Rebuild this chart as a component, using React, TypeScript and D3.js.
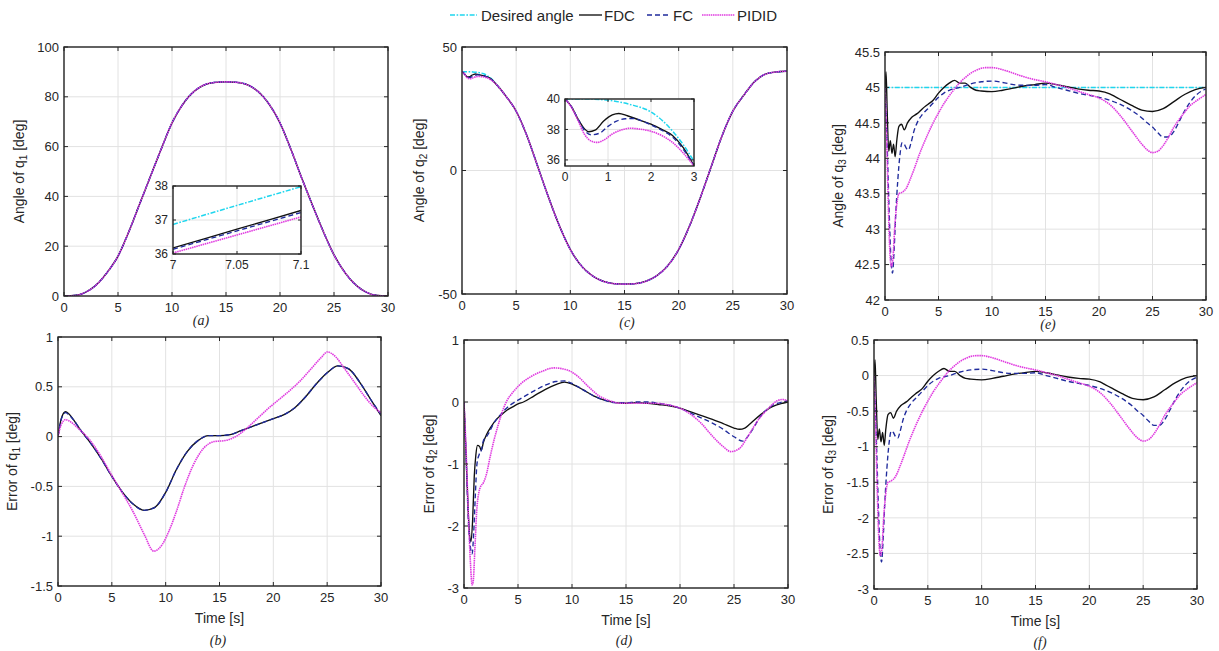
import React from 'react';
import * as d3 from 'd3';

// ---------------- DATA ----------------
const xTicksMain = [0, 5, 10, 15, 20, 25, 30];

// (a) Angle of q1
const q1Time = [0,1,2,3,4,5,6,7,8,9,10,11,12,13,14,15,16,17,18,19,20,21,22,23,24,25,26,27,28,29,30];
const q1Desired = [0,0.2,1.5,4.5,9.5,16,25.8,36.9,48,59,69.5,77,82,84.8,85.8,86,85.8,84.8,82,77,69.5,59,47.5,36.5,26,16.5,9.5,4.5,1.5,0.2,0];
const q1Ticks = [0, 20, 40, 60, 80, 100];
// zoom of (a)
const q1ZoomTime = [7, 7.05, 7.1];
const q1ZoomDesired = [36.87, 37.43, 37.98];
const q1ZoomFDC = [36.18, 36.73, 37.28];
const q1ZoomFC = [36.14, 36.68, 37.22];
const q1ZoomPIDID = [36.03, 36.56, 37.09];
const q1ZoomXTicks = [7, 7.05, 7.1];
const q1ZoomYTicks = [36, 37, 38];

// (c) Angle of q2
const q2DesiredTime = [0,0.5,1,1.5,2,2.5,2.75,3,3.5,4,5,6,7,8,9,10,11,12,13,14,15,16,17,18,19,20,21,22,23,24,25,26,27,28,29,30];
const q2Desired = [40,40,39.92,39.65,39.15,37.9,37.0,35.9,33.2,30.4,24,14,1.5,-11,-22.5,-32,-38.5,-42.5,-44.8,-45.8,-46,-45.8,-44.8,-42.5,-38.5,-32,-22.5,-11,1.5,14,24,30.4,35.9,39.0,39.9,40.2];
const q2FDCTime = [0,0.15,0.3,0.45,0.55,0.7,0.9,1.1,1.25,1.45,1.75,2,2.25,2.5,2.75,3];
const q2FDC = [40,39.5,38.7,38.05,37.85,37.95,38.55,38.95,39.05,38.9,38.6,38.35,38.0,37.6,36.8,35.6];
const q2FCTime = [0,0.15,0.3,0.45,0.6,0.8,1,1.2,1.4,1.6,1.8,2,2.25,2.5,2.75,3];
const q2FC = [40,39.5,38.7,37.95,37.65,37.75,38.2,38.55,38.7,38.72,38.55,38.3,37.95,37.5,36.7,35.65];
const q2PIDIDTime = [0,0.15,0.3,0.45,0.6,0.75,0.9,1.1,1.3,1.5,1.75,2,2.25,2.5,2.75,3];
const q2PIDID = [40,39.45,38.6,37.7,37.25,37.15,37.3,37.7,37.95,38.08,38.02,37.88,37.6,37.15,36.45,35.6];
const q2Ticks = [-50, 0, 50];
const q2ZoomXTicks = [0, 1, 2, 3];
const q2ZoomYTicks = [36, 38, 40];

// (e) Angle of q3
const q3DesiredTime = [0, 30];
const q3Desired = [45, 45];
const q3FDCTime = [0,0.1,0.2,0.35,0.5,0.65,0.8,0.95,1.1,1.3,1.55,1.8,2.1,2.5,3,3.5,4,4.5,5,5.5,6,6.5,7,7.5,8,8.5,9,10,11,12,13,14,15,16,17,18,19,20,21,21.5,22,23,24,25,26,27,28,29,30];
const q3AngleFDC = [45,45.22,44.7,44.1,44.25,44.07,44.2,44.02,44.25,44.45,44.48,44.4,44.5,44.58,44.63,44.7,44.76,44.82,44.92,45.0,45.06,45.1,45.06,45.06,45.0,44.96,44.95,44.94,44.96,44.99,45.02,45.04,45.06,45.04,45.01,44.98,44.96,44.95,44.91,44.87,44.83,44.75,44.68,44.66,44.7,44.8,44.9,44.97,45];
const q3FCTime = [0,0.2,0.4,0.55,0.7,0.85,1,1.2,1.4,1.6,1.8,2,2.2,2.4,2.7,3,3.5,4,4.5,5,5.5,6,7,8,9,10,11,12,13,14,15,16,17,18,19,20,21,22,23,24,24.5,25,25.5,26,26.5,27,27.5,28,29,30];
const q3AngleFC = [45,44.2,43.2,42.6,42.38,42.7,43.2,43.7,44.05,44.22,44.2,44.14,44.12,44.2,44.38,44.5,44.62,44.7,44.78,44.86,44.92,44.96,45.0,45.05,45.08,45.09,45.07,45.04,45.03,45.03,45.04,45.0,44.96,44.92,44.89,44.86,44.82,44.76,44.68,44.57,44.5,44.44,44.36,44.3,44.3,44.38,44.52,44.67,44.88,44.98];
const q3PIDIDTime = [0,0.15,0.3,0.45,0.6,0.75,0.9,1.1,1.3,1.6,2,2.4,2.8,3.2,3.6,4,4.5,5,5.5,6,6.5,7,7.5,8,8.5,9,9.5,10,11,12,13,14,15,16,17,18,19,20,21,22,23,24,24.5,25,25.5,26,26.5,27,27.5,28,28.5,29,30];
const q3AnglePIDID = [45,44.3,43.4,42.7,42.47,42.6,43.0,43.35,43.5,43.52,43.58,43.72,43.88,44.05,44.2,44.34,44.5,44.64,44.77,44.88,44.98,45.07,45.14,45.2,45.24,45.27,45.28,45.28,45.25,45.2,45.15,45.11,45.08,45.04,45.0,44.95,44.9,44.85,44.76,44.6,44.4,44.2,44.12,44.08,44.1,44.18,44.3,44.44,44.55,44.65,44.74,44.8,44.9];
const q3Ticks = [42, 42.5, 43, 43.5, 44, 44.5, 45, 45.5];

// (b) Error of q1
const e1FDCTime = [0,0.3,0.7,1,1.5,2,3,4,5,6,7,8,9,10,11,12,13,14,15,16,17,18,19,20,21,22,23,24,25,26,27,28,29,30];
const e1FDC = [0,0.18,0.25,0.23,0.16,0.08,-0.06,-0.22,-0.4,-0.56,-0.68,-0.74,-0.71,-0.56,-0.33,-0.15,-0.04,0.01,0.01,0.02,0.06,0.1,0.14,0.18,0.22,0.29,0.4,0.53,0.64,0.71,0.68,0.55,0.38,0.21];
const e1FC = [0,0.17,0.24,0.22,0.16,0.08,-0.06,-0.22,-0.4,-0.56,-0.68,-0.74,-0.71,-0.56,-0.33,-0.15,-0.04,0.01,0.01,0.02,0.06,0.1,0.14,0.18,0.22,0.29,0.4,0.53,0.64,0.71,0.68,0.55,0.38,0.22];
const e1PIDIDTime = [0,0.3,0.7,1,1.5,2,2.5,3,4,5,6,7,8,8.9,9.7,10.3,11,11.7,12.5,13.5,14.5,15.5,16.5,17.5,18.5,19.5,20.5,21.5,22.5,23.5,24.5,25,25.8,26.5,27.5,28.5,29.3,30];
const e1PIDID = [0,0.12,0.17,0.16,0.12,0.07,0.02,-0.04,-0.2,-0.39,-0.57,-0.76,-0.98,-1.15,-1.08,-0.95,-0.75,-0.52,-0.3,-0.12,-0.05,-0.04,0,0.08,0.18,0.28,0.37,0.46,0.56,0.68,0.8,0.85,0.8,0.7,0.55,0.4,0.3,0.24];
const e1Ticks = [-1.5, -1, -0.5, 0, 0.5, 1];

// (d) Error of q2
const e2FDCTime = [0,0.2,0.4,0.55,0.65,0.8,0.95,1.1,1.25,1.45,1.6,1.8,2.1,2.5,3,3.5,4,4.5,5,5.5,6.5,7.5,8.5,9.3,10,11,12,13,14,15,16,17,18,19,20,21,22,23,24,25,25.5,26,26.5,27.5,28.5,29.5,30];
const e2FDC = [0,-0.9,-1.8,-2.2,-2.25,-1.9,-1.2,-0.85,-0.7,-0.72,-0.78,-0.65,-0.52,-0.4,-0.28,-0.2,-0.13,-0.08,-0.03,0,0.1,0.2,0.28,0.32,0.29,0.2,0.1,0.03,-0.01,-0.02,-0.01,-0.02,-0.04,-0.06,-0.1,-0.16,-0.22,-0.28,-0.35,-0.42,-0.44,-0.42,-0.35,-0.2,-0.08,-0.02,0];
const e2FCTime = [0,0.2,0.4,0.6,0.75,0.9,1.05,1.2,1.4,1.6,1.8,2,2.3,2.7,3.2,3.7,4.2,5,5.5,6.5,7.5,8.5,9.3,10,11,12,13,14,15,16,17,18,19,20,21,22,23,24,25,25.8,26.3,26.8,27.5,28.5,29.5,30];
const e2FC = [0,-0.9,-1.9,-2.35,-2.45,-2.1,-1.5,-1.0,-0.85,-0.78,-0.62,-0.58,-0.5,-0.36,-0.24,-0.14,-0.06,0.03,0.08,0.18,0.27,0.33,0.34,0.3,0.2,0.1,0.03,-0.01,-0.01,0,0,-0.02,-0.05,-0.1,-0.18,-0.26,-0.34,-0.44,-0.56,-0.63,-0.55,-0.42,-0.22,-0.06,0,0.02];
const e2PIDIDTime = [0,0.2,0.4,0.6,0.75,0.85,1,1.2,1.5,1.8,2.1,2.4,2.8,3.2,3.6,4,4.5,5.3,6.3,7.3,8.3,9.5,10.5,11.5,12.5,13.5,14.5,16,17.5,19,20,21,22,23,24,24.7,25.5,26.3,27.2,28.2,29,29.5,30];
const e2PIDID = [0,-0.8,-1.8,-2.6,-2.95,-2.9,-2.4,-1.7,-1.38,-1.3,-1.15,-0.9,-0.6,-0.35,-0.13,0.03,0.15,0.3,0.42,0.5,0.55,0.52,0.42,0.25,0.1,0.02,-0.02,-0.02,-0.02,-0.05,-0.1,-0.2,-0.35,-0.55,-0.72,-0.8,-0.75,-0.55,-0.3,-0.1,0.02,0.04,0.02];
const e2Ticks = [-3, -2, -1, 0, 1];

// (f) Error of q3
const e3FDC = [0,0.22,-0.3,-0.9,-0.75,-0.93,-0.8,-0.98,-0.75,-0.55,-0.52,-0.6,-0.5,-0.42,-0.37,-0.3,-0.24,-0.18,-0.08,0,0.06,0.1,0.06,0.06,0,-0.04,-0.05,-0.06,-0.04,-0.01,0.02,0.04,0.06,0.04,0.01,-0.02,-0.04,-0.05,-0.09,-0.13,-0.17,-0.25,-0.32,-0.34,-0.3,-0.2,-0.1,-0.03,0];
const e3FC = [0,-0.8,-1.8,-2.4,-2.62,-2.3,-1.8,-1.3,-0.95,-0.78,-0.8,-0.86,-0.88,-0.8,-0.62,-0.5,-0.38,-0.3,-0.22,-0.14,-0.08,-0.04,0,0.05,0.08,0.09,0.07,0.04,0.03,0.03,0.04,0,-0.04,-0.08,-0.11,-0.14,-0.18,-0.24,-0.32,-0.43,-0.5,-0.56,-0.64,-0.7,-0.7,-0.62,-0.48,-0.33,-0.12,-0.02];
const e3PIDID = [0,-0.7,-1.6,-2.3,-2.53,-2.4,-2.0,-1.65,-1.5,-1.48,-1.42,-1.28,-1.12,-0.95,-0.8,-0.66,-0.5,-0.36,-0.23,-0.12,-0.02,0.07,0.14,0.2,0.24,0.27,0.28,0.28,0.25,0.2,0.15,0.11,0.08,0.04,0,-0.05,-0.1,-0.15,-0.24,-0.4,-0.6,-0.8,-0.88,-0.92,-0.9,-0.82,-0.7,-0.56,-0.45,-0.35,-0.26,-0.2,-0.1];
const e3Ticks = [-3, -2.5, -2, -1.5, -1, -0.5, 0, 0.5];

const legendNames = ['Desired angle', 'FDC', 'FC', 'PIDID'];

// ---------------- STYLE ----------------
const STYLES: Record<string, { stroke: string; dash?: string; width: number }> = {
  desired: { stroke: '#1fd6ee', dash: '5,1.6,1.6,1.6', width: 1.5 },
  fdc: { stroke: '#111111', width: 1.35 },
  fc: { stroke: '#1f2b9c', dash: '5,3', width: 1.35 },
  pidid: { stroke: '#e03ae0', dash: '1.5,0.7', width: 1.6 },
};
const TXT = '#262626';
const SANS = '"Liberation Sans", Arial, Helvetica, sans-serif';
const SERIF = '"Liberation Serif", "Times New Roman", serif';

type S = { t: number[]; v: number[]; k: string };

const fmt = (v: number) => String(+v.toFixed(3));

function zip(t: number[], v: number[]): [number, number][] {
  return t.map((x, i) => [x, v[i]]);
}

function Axes(p: {
  x0: number; x1: number; y0: number; y1: number;
  xd: [number, number]; yd: [number, number];
  xTicks: number[]; yTicks: number[]; series: S[]; fs: number; id: string;
  tickLen?: number;
}) {
  const x = d3.scaleLinear().domain(p.xd).range([p.x0, p.x1]);
  const y = d3.scaleLinear().domain(p.yd).range([p.y1, p.y0]);
  const line = d3.line<[number, number]>().x(d => x(d[0])).y(d => y(d[1])).curve(d3.curveMonotoneX);
  const tl = p.tickLen ?? 4;
  return (
    <g>
      <rect x={p.x0} y={p.y0} width={p.x1 - p.x0} height={p.y1 - p.y0} fill="#fff" />
      {p.xTicks.map(t => (
        <line key={'gx' + t} x1={x(t)} x2={x(t)} y1={p.y0} y2={p.y1} stroke="#e2e2e2" strokeWidth={1} />
      ))}
      {p.yTicks.map(t => (
        <line key={'gy' + t} x1={p.x0} x2={p.x1} y1={y(t)} y2={y(t)} stroke="#e2e2e2" strokeWidth={1} />
      ))}
      <clipPath id={p.id}>
        <rect x={p.x0} y={p.y0} width={p.x1 - p.x0} height={p.y1 - p.y0} />
      </clipPath>
      <g clipPath={`url(#${p.id})`}>
        {p.series.map((s, i) => {
          const st = STYLES[s.k];
          return (
            <path key={i} d={line(zip(s.t, s.v)) || ''} fill="none" stroke={st.stroke}
              strokeWidth={st.width} strokeDasharray={st.dash} strokeLinejoin="round" />
          );
        })}
      </g>
      {p.xTicks.map(t => (
        <g key={'tx' + t}>
          <line x1={x(t)} x2={x(t)} y1={p.y1} y2={p.y1 - tl} stroke={TXT} />
          <line x1={x(t)} x2={x(t)} y1={p.y0} y2={p.y0 + tl} stroke={TXT} />
          <text x={x(t)} y={p.y1 + p.fs + 3} textAnchor="middle" fontSize={p.fs} fill={TXT} fontFamily={SANS}>{fmt(t)}</text>
        </g>
      ))}
      {p.yTicks.map(t => (
        <g key={'ty' + t}>
          <line x1={p.x0} x2={p.x0 + tl} y1={y(t)} y2={y(t)} stroke={TXT} />
          <line x1={p.x1} x2={p.x1 - tl} y1={y(t)} y2={y(t)} stroke={TXT} />
          <text x={p.x0 - 5} y={y(t) + p.fs * 0.36} textAnchor="end" fontSize={p.fs} fill={TXT} fontFamily={SANS}>{fmt(t)}</text>
        </g>
      ))}
      <rect x={p.x0} y={p.y0} width={p.x1 - p.x0} height={p.y1 - p.y0} fill="none" stroke={TXT} strokeWidth={1.4} />
    </g>
  );
}

function YLabel({ x, y, pre, sub }: { x: number; y: number; pre: string; sub: string }) {
  return (
    <text transform={`translate(${x},${y}) rotate(-90)`} textAnchor="middle" fontSize={14} fill={TXT} fontFamily={SANS} dominantBaseline="central">
      {pre} of q<tspan fontSize={10} dy={4}>{sub}</tspan><tspan dy={-4}> [deg]</tspan>
    </text>
  );
}

function Legend() {
  const y = 15;
  const items = [
    { k: 'desired', lx0: 450, lx1: 477, tx: 481 },
    { k: 'fdc', lx0: 579, lx1: 602, tx: 604 },
    { k: 'fc', lx0: 647, lx1: 669, tx: 673 },
    { k: 'pidid', lx0: 702, lx1: 735, tx: 737 },
  ];
  return (
    <g>
      {items.map((it, i) => {
        const st = STYLES[it.k];
        return (
          <g key={it.k}>
            <line x1={it.lx0} x2={it.lx1} y1={y} y2={y} stroke={st.stroke} strokeWidth={st.width} strokeDasharray={st.dash} />
            <text x={it.tx} y={y + 5.5} fontSize={15} fill={TXT} fontFamily={SANS}>{legendNames[i]}</text>
          </g>
        );
      })}
    </g>
  );
}

export default function App() {
  const dEarlyIdx = q2DesiredTime.filter(t => t <= 3).length;
  const dTailT = q2DesiredTime.slice(dEarlyIdx);
  const dTailV = q2Desired.slice(dEarlyIdx);

  const panelA = { x0: 64, x1: 388, y0: 47, y1: 296 };
  const panelC = { x0: 462, x1: 787, y0: 47, y1: 294 };
  const panelE = { x0: 885, x1: 1206, y0: 52, y1: 300 };
  const panelB = { x0: 58, x1: 381, y0: 337, y1: 586 };
  const panelD = { x0: 464, x1: 788, y0: 340, y1: 588 };
  const panelF = { x0: 874, x1: 1197, y0: 340, y1: 589 };

  const tag = (x: number, y: number, s: string) => (
    <text x={x} y={y} textAnchor="middle" fontSize={14} fontStyle="italic" fill={TXT} fontFamily={SERIF}>{s}</text>
  );
  const timeLabel = (p: { x0: number; x1: number; y1: number }) => (
    <text x={(p.x0 + p.x1) / 2} y={p.y1 + 37} textAnchor="middle" fontSize={14} fill={TXT} fontFamily={SANS}>Time [s]</text>
  );

  return (
    <svg width={1219} height={651} style={{ position: 'absolute', left: 0, top: 0, background: '#fff' }}>
      <rect width={1219} height={651} fill="#fff" />
      <Legend />

      {/* (a) */}
      <Axes {...panelA} xd={[0, 30]} yd={[0, 100]} xTicks={xTicksMain} yTicks={q1Ticks} fs={13} id="ca"
        series={[
          { t: q1Time, v: q1Desired, k: 'desired' },
          { t: q1Time, v: q1Desired, k: 'fdc' },
          { t: q1Time, v: q1Desired, k: 'fc' },
          { t: q1Time, v: q1Desired, k: 'pidid' },
        ]} />
      <Axes x0={173} x1={301} y0={186} y1={254} xd={[7, 7.1]} yd={[36, 38]} xTicks={q1ZoomXTicks} yTicks={q1ZoomYTicks} fs={12} id="cai" tickLen={3}
        series={[
          { t: q1ZoomTime, v: q1ZoomDesired, k: 'desired' },
          { t: q1ZoomTime, v: q1ZoomFDC, k: 'fdc' },
          { t: q1ZoomTime, v: q1ZoomFC, k: 'fc' },
          { t: q1ZoomTime, v: q1ZoomPIDID, k: 'pidid' },
        ]} />
      <YLabel x={19} y={(panelA.y0 + panelA.y1) / 2} pre="Angle" sub="1" />
      {tag(201, 325, '(a)')}

      {/* (c) */}
      <Axes {...panelC} xd={[0, 30]} yd={[-50, 50]} xTicks={xTicksMain} yTicks={q2Ticks} fs={13} id="cc"
        series={[
          { t: q2DesiredTime, v: q2Desired, k: 'desired' },
          { t: [...q2FDCTime, ...dTailT], v: [...q2FDC, ...dTailV], k: 'fdc' },
          { t: [...q2FCTime, ...dTailT], v: [...q2FC, ...dTailV], k: 'fc' },
          { t: [...q2PIDIDTime, ...dTailT], v: [...q2PIDID, ...dTailV], k: 'pidid' },
        ]} />
      <Axes x0={565} x1={694} y0={99} y1={166} xd={[0, 3]} yd={[35.6, 40]} xTicks={q2ZoomXTicks} yTicks={q2ZoomYTicks} fs={12} id="cci" tickLen={3}
        series={[
          { t: q2DesiredTime.slice(0, dEarlyIdx), v: q2Desired.slice(0, dEarlyIdx), k: 'desired' },
          { t: q2FDCTime, v: q2FDC, k: 'fdc' },
          { t: q2FCTime, v: q2FC, k: 'fc' },
          { t: q2PIDIDTime, v: q2PIDID, k: 'pidid' },
        ]} />
      <YLabel x={419} y={(panelC.y0 + panelC.y1) / 2} pre="Angle" sub="2" />
      {tag(627, 327, '(c)')}

      {/* (e) */}
      <Axes {...panelE} xd={[0, 30]} yd={[42, 45.5]} xTicks={xTicksMain} yTicks={q3Ticks} fs={13} id="ce"
        series={[
          { t: q3DesiredTime, v: q3Desired, k: 'desired' },
          { t: q3FDCTime, v: q3AngleFDC, k: 'fdc' },
          { t: q3FCTime, v: q3AngleFC, k: 'fc' },
          { t: q3PIDIDTime, v: q3AnglePIDID, k: 'pidid' },
        ]} />
      <YLabel x={838} y={(panelE.y0 + panelE.y1) / 2} pre="Angle" sub="3" />
      {tag(1048, 329, '(e)')}

      {/* (b) */}
      <Axes {...panelB} xd={[0, 30]} yd={[-1.5, 1]} xTicks={xTicksMain} yTicks={e1Ticks} fs={13} id="cb"
        series={[
          { t: e1FDCTime, v: e1FDC, k: 'fdc' },
          { t: e1FDCTime, v: e1FC, k: 'fc' },
          { t: e1PIDIDTime, v: e1PIDID, k: 'pidid' },
        ]} />
      <YLabel x={12} y={(panelB.y0 + panelB.y1) / 2} pre="Error" sub="1" />
      {timeLabel(panelB)}
      {tag(218, 645, '(b)')}

      {/* (d) */}
      <Axes {...panelD} xd={[0, 30]} yd={[-3, 1]} xTicks={xTicksMain} yTicks={e2Ticks} fs={13} id="cd"
        series={[
          { t: e2FDCTime, v: e2FDC, k: 'fdc' },
          { t: e2FCTime, v: e2FC, k: 'fc' },
          { t: e2PIDIDTime, v: e2PIDID, k: 'pidid' },
        ]} />
      <YLabel x={429} y={(panelD.y0 + panelD.y1) / 2} pre="Error" sub="2" />
      {timeLabel(panelD)}
      {tag(624, 645, '(d)')}

      {/* (f) */}
      <Axes {...panelF} xd={[0, 30]} yd={[-3, 0.5]} xTicks={xTicksMain} yTicks={e3Ticks} fs={13} id="cf"
        series={[
          { t: q3FDCTime, v: e3FDC, k: 'fdc' },
          { t: q3FCTime, v: e3FC, k: 'fc' },
          { t: q3PIDIDTime, v: e3PIDID, k: 'pidid' },
        ]} />
      <YLabel x={828} y={(panelF.y0 + panelF.y1) / 2} pre="Error" sub="3" />
      {timeLabel(panelF)}
      {tag(1040, 647, '(f)')}
    </svg>
  );
}
